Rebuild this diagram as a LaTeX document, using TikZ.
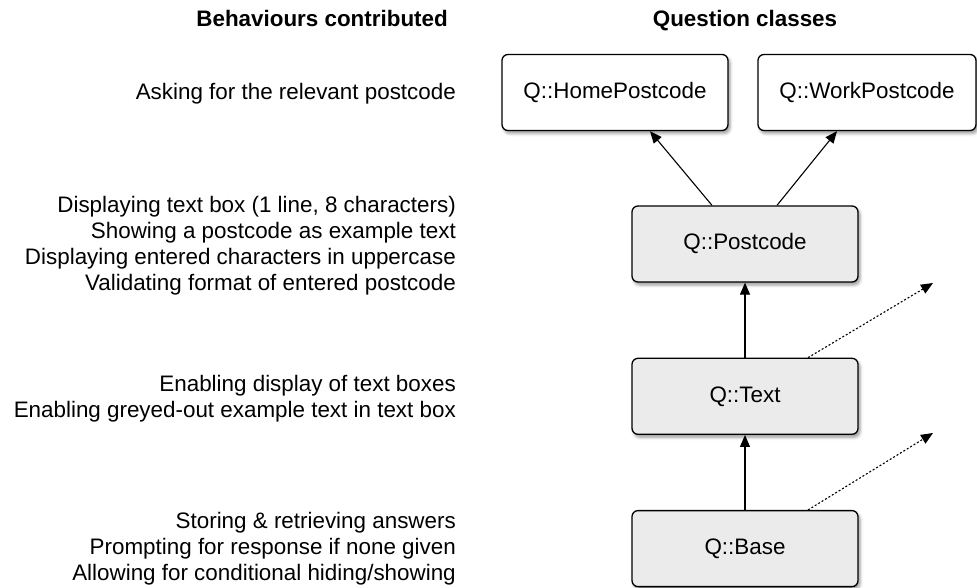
\documentclass[tikz,border=0pt]{standalone}
\usepackage{fontspec}
\setmainfont{Liberation Sans}
\usetikzlibrary{shadows.blur, positioning, calc, arrows.meta}
\definecolor{boxgrey}{HTML}{EBEBEB}

\begin{document}
\begin{tikzpicture}[x=1pt, y=-1pt, node distance=75pt,
  every node/.style={font=\fontsize{22.4}{26}\selectfont},
  qbox/.style={draw, line width=1.3pt, rounded corners=6pt, fill=boxgrey, minimum width=226pt, minimum height=76pt,
    blur shadow={shadow xshift=2pt, shadow yshift=-3pt, shadow blur radius=3pt}},
  behav/.style={align=right, anchor=base east, inner sep=0pt},
  heading/.style={font=\fontsize{22.4}{26}\selectfont\bfseries, anchor=base, inner sep=0pt},
  subcls/.style={-{Triangle[length=12pt, width=10pt]}, line width=1.1pt}]
  \useasboundingbox (0,0) rectangle (977,588);

  % column headings
  \node[heading, anchor=base east] (behavHead) at (448,27) {Behaviours contributed};
  \node[heading] (classHead) at (745,27) {Question classes};

  % class boxes
  \node[qbox] (pcode) at (745,244) {Q::Postcode};
  \node[qbox, below=of pcode] (txt) {Q::Text};
  \node[qbox, below=of txt] (qbase) {Q::Base};
  \node[qbox, fill=white] (home) at (615,92.5) {Q::HomePostcode};
  \node[qbox, fill=white, minimum width=218pt] (work) at (867,92.5) {Q::WorkPostcode};

  % behaviours (base = last line)
  \node[behav] (askTxt) at (456,100) {Asking for the relevant postcode};
  \node[behav] (pcodeTxt) at (456,290) {Displaying text box (1 line, 8 characters)\\Showing a postcode as example text\\Displaying entered characters in uppercase\\Validating format of entered postcode};
  \node[behav] (txtTxt) at (456,417) {Enabling display of text boxes\\Enabling greyed-out example text in text box};
  \node[behav] (baseTxt) at (456,580) {Storing \& retrieving answers\\Prompting for response if none given\\Allowing for conditional hiding/showing};

  \draw[subcls] ($(pcode.north)+(-33,0)$) -- ($(home.south)+(35,0)$);
  \draw[subcls] ($(pcode.north)+(32,0)$) -- ($(work.south)+(-30,0)$);
  \draw[subcls] (txt) -- (pcode);
  \draw[subcls] (qbase) -- (txt);

  \coordinate (txtOut) at (933,283);
  \coordinate (baseOut) at (933,433);
  \draw[subcls, dash pattern=on 2pt off 2pt] ($(txt.north)+(63,0)$) -- (txtOut);
  \draw[subcls, dash pattern=on 2pt off 2pt] ($(qbase.north)+(63,0)$) -- (baseOut);
\end{tikzpicture}
\end{document}
